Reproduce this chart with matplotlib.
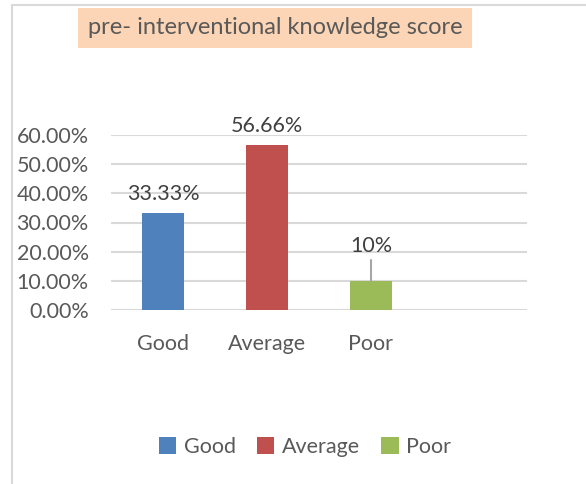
import matplotlib.pyplot as plt
from matplotlib.patches import Patch, Rectangle

categories = ['Good', 'Average', 'Poor']
scores = [33.33, 56.66, 10.0]
labels = ['33.33%', '56.66%', '10%']
colors = ['#4F81BD', '#C0504D', '#9BBB59']
yticks = [0, 10, 20, 30, 40, 50, 60]

plt.rcParams['font.family'] = ['Lato', 'DejaVu Sans']
txt = '#595959'
fs = 15.5

fig = plt.figure(figsize=(5.86, 4.84), dpi=100)
# chart frame (left and top edges visible)
fig.patches.append(Rectangle((12 / 586, -0.1), 2, 1.1 - 5 / 484, transform=fig.transFigure,
                             fill=False, edgecolor='#D9D9D9', linewidth=1.5))

ax = fig.add_axes([111 / 586, 174 / 484, 416 / 586, 175 / 484])
x = list(range(len(categories)))
ax.bar(x, scores, width=0.4, color=colors, zorder=3)
ax.set_xlim(-0.5, 3.5)
ax.set_ylim(0, 60)
ax.set_yticks(yticks)
ax.set_yticklabels(['%.2f%%' % v for v in yticks])
ax.set_xticks(x)
ax.set_xticklabels(categories)
ax.tick_params(axis='both', length=0, labelsize=fs, colors=txt)
ax.tick_params(axis='x', pad=17)
ax.tick_params(axis='y', pad=16)
ax.grid(axis='y', color='#D9D9D9', linewidth=1.5, zorder=0)
for s in ax.spines.values():
    s.set_visible(False)

for i in range(2):
    ax.annotate(labels[i], (x[i], scores[i]), xytext=(0, 6), textcoords='offset points',
                ha='center', va='bottom', fontsize=fs, color='#404040')
ax.annotate(labels[2], (x[2], scores[2]), xytext=(0, 18), textcoords='offset points',
            ha='center', va='bottom', fontsize=fs, color='#404040',
            arrowprops=dict(arrowstyle='-', color='#A6A6A6', lw=1.5, shrinkA=1, shrinkB=0))

fig.text(275 / 586, 1 - 28 / 484, 'pre- interventional knowledge score', ha='center', va='center',
         fontsize=17, color=txt,
         bbox=dict(boxstyle='square,pad=0.42', facecolor='#FBD5B5', edgecolor='none'))

handles = [Patch(facecolor=c) for c in colors]
fig.legend(handles, categories, loc='center', bbox_to_anchor=(305 / 586, 1 - 447 / 484), ncol=3,
           frameon=False, fontsize=fs, labelcolor=txt, handlelength=0.8, handleheight=0.8,
           handletextpad=0.35, columnspacing=1.0)

fig.savefig('out.png', dpi=100)
